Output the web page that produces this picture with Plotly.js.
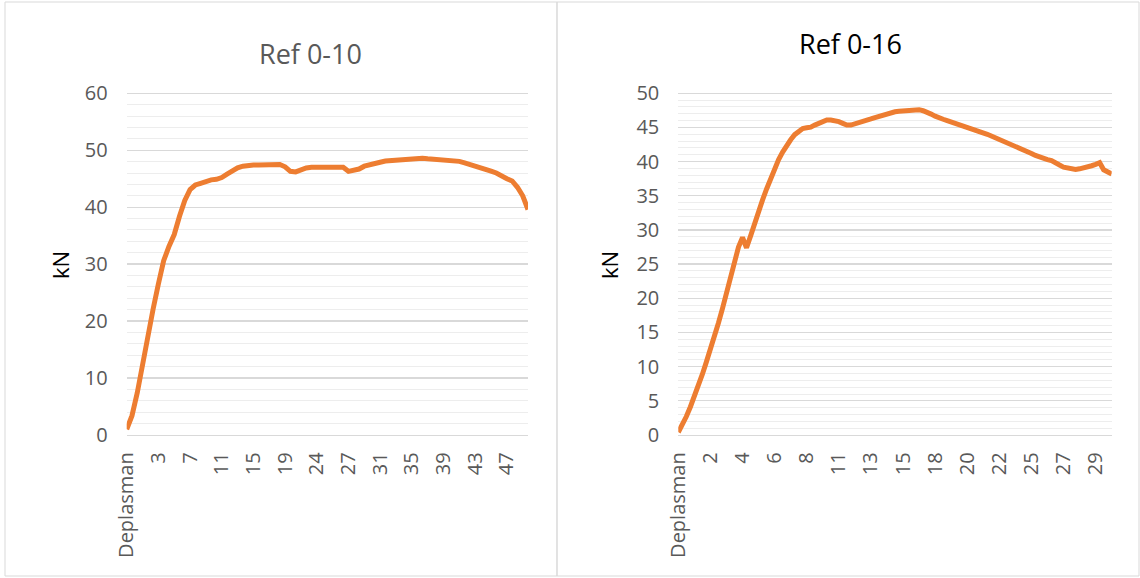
<!DOCTYPE html>
<html>
<head>
<meta charset="utf-8">
<script src="https://cdn.plot.ly/plotly-3.0.1.min.js"></script>
<style>
  html, body { margin: 0; padding: 0; background: #ffffff; }
  #chart { width: 1140px; height: 578px; }
</style>
</head>
<body>
<div id="chart"></div>
<script>
// ---- Data ----
// Left chart "Ref 0-10": load in kN, one value per category (77 categories)
const ref010Values = [
  1.0, 3.4, 7.4, 12.6, 17.6, 22.1, 26.5, 30.6, 33.1, 35.2,
  38.4, 41.2, 43.1, 43.9, 44.2, 44.55, 44.8, 44.9, 45.2, 45.8,
  46.4, 46.9, 47.2, 47.4, 47.4, 47.4, 47.45, 47.5, 47.5, 47.5,
  47.1, 46.3, 46.2, 46.6, 46.9, 47.0, 47.0, 47.0, 47.0, 47.0,
  47.0, 47.0, 46.3, 46.4, 46.7, 47.2, 47.5, 47.7, 47.9, 48.1,
  48.2, 48.3, 48.4, 48.5, 48.55, 48.6, 48.6, 48.5, 48.45, 48.4,
  48.35, 48.3, 48.3, 48.05, 47.8, 47.55, 47.3, 47.0, 46.7, 46.35,
  46.0, 45.4, 45.0, 44.6, 43.5, 42.0, 39.6
];
// Category labels shown on the left x axis (every 6th category)
const ref010TickLabels = ["Deplasman", "3", "7", "11", "15", "19", "24", "27", "31", "35", "39", "43", "47"];
const ref010LabelStep = 6;

// Right chart "Ref 0-16": load in kN, one value per category (109 categories)
const ref016Values = [
  0.4, 1.5, 2.7, 4.1, 5.6, 7.1, 8.9, 10.7, 12.5, 14.4,
  16.4, 18.5, 20.8, 23.2, 25.5, 27.5, 28.9, 27.4, 29.1, 31.0,
  32.9, 34.4, 36.0, 37.5, 39.0, 40.3, 41.4, 42.4, 43.2, 43.95,
  44.4, 44.85, 44.95, 45.05, 45.35, 45.65, 45.95, 46.1, 46.1, 46.05,
  45.85, 45.6, 45.35, 45.35, 45.5, 45.7, 45.9, 46.05, 46.25, 46.45,
  46.65, 46.85, 47.05, 47.2, 47.3, 47.37, 47.45, 47.5, 47.57, 47.63,
  47.6, 47.45, 47.27, 46.95, 46.65, 46.35, 46.2, 46.0, 45.8, 45.6,
  45.4, 45.25, 45.05, 44.9, 44.7, 44.55, 44.3, 44.0, 43.75, 43.5,
  43.3, 43.1, 42.85, 42.6, 42.4, 42.15, 41.85, 41.55, 41.2, 40.9,
  40.65, 40.45, 40.3, 40.15, 39.9, 39.5, 39.2, 39.05, 38.9, 38.85,
  38.95, 39.05, 39.15, 39.4, 39.6, 39.85, 38.8, 38.5, 38.2
];
// Category labels shown on the right x axis (every 8th category)
const ref016TickLabels = ["Deplasman", "2", "4", "6", "8", "11", "13", "15", "18", "20", "22", "25", "27", "29"];
const ref016LabelStep = 8;

const titles = ["Ref 0-10", "Ref 0-16"];
const yTitle = "kN";

// ---- Build traces ----
const idx = arr => arr.map((_, i) => i);
const tickPositions = (labels, step) => labels.map((_, i) => i * step);

const lineStyle = { color: "#ED7D31", width: 5 };
const traces = [
  { type: "scatter", mode: "lines", x: idx(ref010Values), y: ref010Values,
    xaxis: "x", yaxis: "y", line: lineStyle, hoverinfo: "y", showlegend: false },
  { type: "scatter", mode: "lines", x: idx(ref016Values), y: ref016Values,
    xaxis: "x2", yaxis: "y2", line: lineStyle, hoverinfo: "y", showlegend: false }
];

const W = 1140, H = 578;
const px = v => v / W;
const py = v => 1 - v / H;

const font = "Open Sans, Lato, sans-serif";
const tickFont = { family: font, size: 20, color: "#595959" };
const majorGrid = "#d9d9d9";
const minorGrid = "#ededed";

function xAxis(domain, n, labels, step, anchor) {
  return {
    domain: domain,
    anchor: anchor,
    range: [0, n - 1],
    tickmode: "array",
    tickvals: tickPositions(labels, step),
    ticktext: labels,
    tickangle: -90,
    tickfont: tickFont,
    ticks: "",
    ticklabelstandoff: 8,
    showgrid: false,
    zeroline: false,
    showline: true,
    linecolor: majorGrid,
    linewidth: 1.3,
    fixedrange: true
  };
}
// the range top is padded a little so the top major gridline is drawn
function yAxis(bottomPx, pxPerUnit, max, dtick, minorDtick, anchor) {
  const padPx = 3;
  const pad = padPx / pxPerUnit;
  const topPx = bottomPx - max * pxPerUnit - padPx;
  return {
    domain: [py(bottomPx), py(topPx)],
    anchor: anchor,
    range: [0, max + pad],
    dtick: dtick,
    tick0: 0,
    tickfont: tickFont,
    ticks: "",
    ticklabelstandoff: 18,
    showgrid: true,
    gridcolor: majorGrid,
    gridwidth: 1.3,
    zeroline: false,
    showline: false,
    minor: { dtick: minorDtick, showgrid: true, gridcolor: minorGrid, gridwidth: 1, ticks: "" },
    fixedrange: true
  };
}

const layout = {
  width: W, height: H,
  margin: { l: 0, r: 0, t: 0, b: 0 },
  paper_bgcolor: "#ffffff",
  plot_bgcolor: "#ffffff",
  showlegend: false,
  xaxis: xAxis([px(126.7), px(528)], ref010Values.length, ref010TickLabels, ref010LabelStep, "y"),
  yaxis: yAxis(435, (435 - 93.3) / 60, 60, 10, 2, "x"),
  xaxis2: xAxis([px(678.3), px(1111.7)], ref016Values.length, ref016TickLabels, ref016LabelStep, "y2"),
  yaxis2: yAxis(435, (435 - 93.3) / 50, 50, 5, 1, "x2"),
  shapes: [
    { type: "rect", xref: "paper", yref: "paper", x0: px(5), x1: px(557), y0: py(576), y1: py(2),
      line: { color: "#d9d9d9", width: 1 }, fillcolor: "rgba(0,0,0,0)" },
    { type: "rect", xref: "paper", yref: "paper", x0: px(557), x1: px(1139), y0: py(576), y1: py(2),
      line: { color: "#d9d9d9", width: 1 }, fillcolor: "rgba(0,0,0,0)" }
  ],
  annotations: [
    { text: titles[0], xref: "paper", yref: "paper", x: px(310), y: py(54), xanchor: "center", yanchor: "middle",
      showarrow: false, font: { family: font, size: 27, color: "#595959" } },
    { text: titles[1], xref: "paper", yref: "paper", x: px(850), y: py(43), xanchor: "center", yanchor: "middle",
      showarrow: false, font: { family: font, size: 27, color: "#000000" } },
    { text: yTitle, xref: "paper", yref: "paper", x: px(60), y: py(265), xanchor: "center", yanchor: "middle",
      textangle: -90, showarrow: false, font: { family: font, size: 22, color: "#000000" } },
    { text: yTitle, xref: "paper", yref: "paper", x: px(609), y: py(265), xanchor: "center", yanchor: "middle",
      textangle: -90, showarrow: false, font: { family: font, size: 22, color: "#000000" } }
  ]
};

Plotly.newPlot("chart", traces, layout, { staticPlot: true, displayModeBar: false });
</script>
</body>
</html>
